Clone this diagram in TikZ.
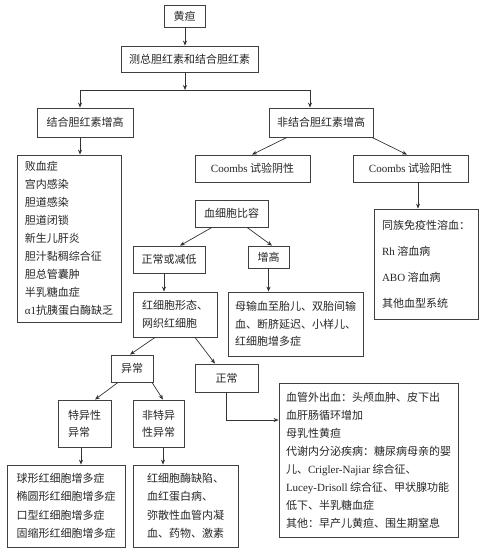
\documentclass[tikz,border=0pt]{standalone}
\usepackage{fontspec}
\setmainfont{Noto Sans CJK SC}
\newfontfamily\latf{Liberation Serif}
\usetikzlibrary{arrows.meta}
\newcommand{\lt}[1]{{\latf #1}}
\begin{document}
\begin{tikzpicture}[x=1pt,y=-1pt,
  box/.style={draw=black!75, line width=0.8pt, inner sep=0pt, align=left, text=black!85,
    font=\fontsize{11}{18}\selectfont},
  conn/.style={draw=black!80, line width=0.7pt},
  arr/.style={conn, -{Stealth[length=5pt,width=4pt]}}]
\useasboundingbox[fill=white] (0,0) rectangle (485,554);

\node[box, minimum width=41pt, minimum height=22pt] (huang) at (184.5,16) {黄疸};
\node[box, minimum width=137pt, minimum height=26pt] (ce) at (189.5,59) {测总胆红素和结合胆红素};
\node[box, minimum width=96pt, minimum height=29pt] (jh) at (85,122.5) {结合胆红素增高};
\node[box, minimum width=104pt, minimum height=29pt] (fjh) at (321,122.5) {非结合胆红素增高};
\node[box, minimum width=104pt, minimum height=167pt] (list) at (69,238.5)
  {败血症\\宫内感染\\胆道感染\\胆道闭锁\\新生儿肝炎\\胆汁黏稠综合征\\胆总管囊肿\\半乳糖血症\\\lt{α1}抗胰蛋白酶缺乏};
\node[box, minimum width=115pt, minimum height=27pt] (cneg) at (252.5,168.5) {\lt{Coombs} 试验阴性};
\node[box, minimum width=115pt, minimum height=27pt] (cpos) at (410.5,168.5) {\lt{Coombs} 试验阳性};
\node[box, minimum width=104pt, minimum height=110pt, font=\fontsize{11}{26}\selectfont] (tongzu) at (426,264)
  {同族免疫性溶血：\\\lt{Rh} 溶血病\\\lt{ABO} 溶血病\\其他血型系统};
\node[box, minimum width=73pt, minimum height=27pt] (hxb) at (231.5,213.5) {血细胞比容};
\node[box, minimum width=72pt, minimum height=27pt] (zchd) at (169,259.5) {正常或减低};
\node[box, minimum width=41pt, minimum height=22pt] (zg) at (268.5,257) {增高};
\node[box, minimum width=135pt, minimum height=64pt, font=\fontsize{11}{17.5}\selectfont] (mu) at (295.5,324)
  {母输血至胎儿、双胎间输\\血、断脐延迟、小样儿、\\红细胞增多症};
\node[box, minimum width=84pt, minimum height=45pt] (hxbxt) at (175,314.5) {红细胞形态、\\网织红细胞};
\node[box, minimum width=42pt, minimum height=27pt] (yc) at (132,368.5) {异常};
\node[box, minimum width=63pt, minimum height=28pt] (zc) at (226.5,378) {正常};
\node[box, minimum width=53pt, minimum height=47pt, font=\fontsize{11}{17}\selectfont] (tyx) at (84.5,423.5) {特异性\\异常};
\node[box, minimum width=51pt, minimum height=47pt, font=\fontsize{11}{17}\selectfont] (ftyx) at (158.5,423.5) {非特异\\性异常};
\node[box, minimum width=118pt, minimum height=82pt, font=\fontsize{11}{18.5}\selectfont] (qx) at (66,506)
  {球形红细胞增多症\\椭圆形红细胞增多症\\口型红细胞增多症\\固缩形红细胞增多症};
\node[box, minimum width=105pt, minimum height=82pt, font=\fontsize{11}{18.5}\selectfont] (mq) at (185.5,506)
  {红细胞酶缺陷、\\血红蛋白病、\\弥散性血管内凝\\血、药物、激素};
\node[box, minimum width=179pt, minimum height=154pt] (big) at (368.5,460)
  {血管外出血：头颅血肿、皮下出\\血肝肠循环增加\\母乳性黄疸\\代谢内分泌疾病：糖尿病母亲的婴\\儿、\lt{Crigler-Najiar} 综合征、\\\lt{Lucey-Drisoll} 综合征、甲状腺功能\\低下、半乳糖血症\\其他：早产儿黄疸、围生期窒息};

% connectors
\coordinate (bj) at (185,90);
\coordinate (bl) at (80,90);
\coordinate (br) at (310,90);
\draw[arr] (huang.south -| bj) -- (ce.north -| bj);
\draw[arr] (ce.south -| bj) -- (bj);
\draw[conn] (bl) -- (br);
\draw[arr] (bl) -- (bl |- jh.north);
\draw[arr] (br) -- (br |- fjh.north);
\draw[arr] (bl |- jh.south) -- (bl |- list.north);
\draw[arr] ([xshift=-34pt]fjh.south) -- ([xshift=-0.5pt]cneg.north);
\draw[arr] ([xshift=51pt]fjh.south) -- ([xshift=-3.5pt]cpos.north);
\draw[arr] ([xshift=7.5pt]cpos.south) -- ([xshift=7.5pt]cpos.south |- tongzu.north);
\draw[arr] ([xshift=-19.5pt]hxb.south) -- ([xshift=11pt]zchd.north);
\draw[arr] ([xshift=15.5pt]hxb.south) -- ([xshift=3.5pt]zg.north);
\draw[arr] (zg.south) -- (zg.south |- mu.north);
\draw[arr] ([xshift=-5pt]zchd.south) -- ([xshift=-5pt]zchd.south |- hxbxt.north);
\draw[arr] ([xshift=-20pt]hxbxt.south) -- ([xshift=-2pt]yc.north);
\draw[arr] ([xshift=20pt]hxbxt.south) -- ([xshift=-11.5pt]zc.north);
\draw[arr] ([xshift=-14pt]yc.south) -- ([xshift=10.5pt]tyx.north);
\draw[arr] ([xshift=20pt]yc.south) -- ([xshift=4.5pt]ftyx.north);
\draw[arr] ([xshift=-3.5pt]tyx.south) -- ([xshift=-3.5pt]tyx.south |- qx.north);
\draw[arr] ([xshift=4.5pt]ftyx.south) -- ([xshift=4.5pt]ftyx.south |- mq.north);
\draw[arr] (zc.south) |- ([yshift=40pt]big.west);
\end{tikzpicture}
\end{document}
